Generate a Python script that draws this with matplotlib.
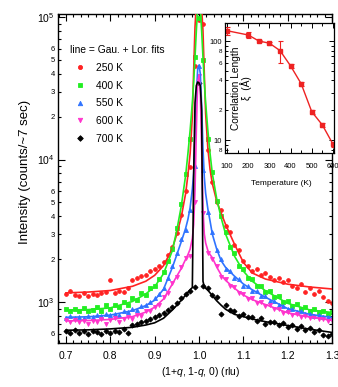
import numpy as np
import matplotlib
matplotlib.use('Agg')
import matplotlib.pyplot as plt
from matplotlib.ticker import LogLocator, FuncFormatter, MultipleLocator

plt.rcParams['font.family'] = ['Liberation Sans', 'DejaVu Sans']
plt.rcParams['mathtext.fontset'] = 'custom'
plt.rcParams['mathtext.rm'] = 'Liberation Sans'
plt.rcParams['mathtext.it'] = 'Liberation Sans:italic'

# ---------------- data ----------------
labels = ['250 K', '400 K', '550 K', '600 K', '700 K']
colors = ['#ff2222', '#22ee22', '#2f73ff', '#ff33cc', '#000000']
markers = ['o', 's', '^', 'v', 'D']

q_data = np.linspace(0.70, 1.30, 61)

I_250 = [1130, 1190, 1120, 1100, 1150, 1110, 1140, 1120, 1160, 1180,
         1420, 1150, 1200, 1170, 1250, 1420, 1480, 1520, 1560, 1650,
         1700, 1780, 1900, 2150, 2450, 3050, 4100, 6000, 8850, 45000,
         95000,
         90000, 11600, 7000, 5000, 4400, 3400, 3100, 2500, 2300, 1950,
         1800, 1650, 1700, 1560, 1600, 1500, 1430, 1480, 1380, 1420,
         1300, 1250, 1330, 1180, 1250, 1130, 1200, 1080, 1020, 990]
I_400 = [890, 860, 900, 870, 905, 860, 880, 920, 870, 950,
         900, 960, 930, 1000, 960, 1060, 1030, 1150, 1120, 1260,
         1300, 1450, 1620, 1950, 2350, 3300, 4900, 7900, 14000, 52000,
         98000,
         50000, 14000, 8200, 5100, 4000, 3100, 2450, 2200, 1800, 1700,
         1480, 1450, 1300, 1290, 1180, 1190, 1090, 1100, 1000, 1020,
         940, 970, 900, 930, 870, 890, 850, 870, 830, 850]
I_550 = [770, 800, 775, 790, 770, 800, 785, 810, 795, 820,
         805, 830, 815, 860, 850, 890, 880, 940, 960, 1000,
         1060, 1140, 1260, 1480, 1780, 2200, 2750, 3200, 4400, 9000,
         45000,
         8500, 4300, 3100, 2300, 2000, 1700, 1650, 1480, 1450, 1300,
         1300, 1190, 1200, 1100, 1100, 1020, 1010, 950, 940, 890,
         890, 850, 860, 820, 830, 800, 810, 780, 790, 770]
I_600 = [745, 720, 750, 725, 735, 700, 740, 725, 760, 700,
         745, 770, 720, 760, 790, 760, 810, 800, 860, 870,
         930, 960, 1080, 1150, 1360, 1500, 1760, 2030, 2100, 5000,
         38700,
         4200, 2200, 2000, 1800, 1500, 1450, 1300, 1270, 1150, 1130,
         1050, 1060, 980, 1000, 940, 950, 890, 900, 840, 850,
         810, 830, 790, 800, 770, 780, 755, 765, 740, 750]
I_700 = [630, 610, 640, 605, 625, 600, 630, 615, 600, 625,
         610, 630, 620, 650, 610, 690, 700, 720, 740, 760,
         780, 810, 840, 880, 920, 990, 1060, 1130, 1200, 1270,
         34500,
         1300, 1250, 1120, 1080, 830, 950, 880, 860, 800, 830,
         780, 790, 740, 770, 700, 730, 720, 690, 710, 670,
         690, 650, 680, 640, 660, 620, 640, 590, 575, 600]

# Gaussian + Lorentzian fit curves
q_fit = [0.70, 0.75, 0.80, 0.85, 0.88, 0.90, 0.92, 0.94, 0.95, 0.96,
         0.97, 0.975, 0.98, 0.985, 0.988, 0.991, 0.994, 0.997, 1.0, 1.003,
         1.006, 1.009, 1.012, 1.015, 1.02, 1.025, 1.03, 1.04, 1.05, 1.06,
         1.08, 1.10, 1.12, 1.15, 1.20, 1.25, 1.30]
fit_250 = [1160, 1175, 1205, 1290, 1400, 1540, 1800, 2380, 3000, 3950,
           5800, 7800, 11000, 20000, 42000, 85000, 125000, 140000, 140000, 135000,
           115000, 80000, 40000, 21000, 12000, 8500, 6800, 5100, 4200, 3500,
           2550, 1900, 1600, 1450, 1335, 1275, 1235]
fit_400 = [878, 885, 910, 1010, 1140, 1280, 1580, 2300, 3200, 4700,
           7800, 11000, 16000, 25000, 35000, 52000, 80000, 115000, 135000, 115000,
           80000, 52000, 35000, 25000, 16000, 11000, 8000, 5300, 3900, 3000,
           2100, 1650, 1400, 1200, 980, 880, 845]
fit_550 = [782, 788, 810, 870, 945, 1030, 1230, 1750, 2150, 2650,
           3300, 3800, 4600, 6200, 8000, 14000, 28000, 43000, 46000, 40000,
           24000, 12000, 7500, 5800, 4500, 3700, 3000, 2350, 1950, 1750,
           1520, 1340, 1220, 1080, 900, 820, 780]
fit_600 = [738, 742, 755, 790, 850, 920, 1050, 1340, 1520, 1720,
           2000, 2150, 2350, 2800, 3500, 6000, 16000, 35000, 39000, 30000,
           12000, 4500, 3000, 2600, 2300, 2150, 2050, 1760, 1550, 1420,
           1250, 1120, 1040, 960, 840, 785, 745]
fit_700 = [634, 638, 648, 665, 690, 715, 770, 880, 950, 1030,
           1120, 1170, 1220, 1265, 8000, 25000, 33000, 35000, 34500, 33000,
           22000, 1400, 1275, 1250, 1210, 1160, 1110, 1020, 950, 890,
           820, 790, 760, 728, 685, 645, 612]

# inset: correlation length vs temperature
T_inset = [100, 200, 250, 300, 350, 400, 450, 500, 550, 600]
xi_inset = [127, 115, 100, 95, 80, 56, 37, 19.3, 14.2, 9.1]
xi_err = [11, 8, 3, 3, 20, 2, 1.5, 1, 0.8, 0.5]

# ---------------- figure ----------------
fig = plt.figure(figsize=(3.38, 3.87), dpi=100)
ax = fig.add_axes([58/338, 1-343/387, 274/338, 329/387])

series = [I_250, I_400, I_550, I_600, I_700]
fits = [fit_250, fit_400, fit_550, fit_600, fit_700]
msizes = [2.7, 2.5, 2.9, 2.9, 2.6]
for vals, c, m, lab, ms in zip(series, colors, markers, labels, msizes):
    ax.plot(q_data, vals, ls='none', marker=m, ms=ms, color=c, mec=c, mew=0.6,
            label=lab, zorder=2)
for f, c in zip(fits, colors):
    ax.plot(q_fit, f, color=c, lw=1.2, zorder=3)

ax.set_yscale('log')
ax.set_ylim(516, 1.05e5)
ax.set_xlim(0.682, 1.300)

ax.xaxis.set_major_locator(MultipleLocator(0.1))
ax.xaxis.set_minor_locator(MultipleLocator(0.1/6))
ax.xaxis.set_major_formatter(FuncFormatter(lambda v, p: f'{v:.1f}'))

ax.yaxis.set_major_locator(LogLocator(base=10, numticks=10))
ax.yaxis.set_minor_locator(LogLocator(base=10, subs=np.arange(2, 10), numticks=30))


def minor_fmt(v, pos):
    d = int(round(v / 10**np.floor(np.log10(v) + 1e-9)))
    return str(d) if d in (2, 3, 4, 5, 6) else ''


ax.yaxis.set_minor_formatter(FuncFormatter(minor_fmt))

ax.tick_params(which='both', direction='in', top=True, right=True, width=0.8)
ax.tick_params(which='major', length=5, labelsize=7.5)
ax.tick_params(axis='x', which='major', pad=6)
ax.tick_params(axis='y', which='major', pad=2.5)
ax.tick_params(which='minor', length=2.5)
ax.tick_params(axis='y', which='minor', labelsize=5.5, pad=2)
for s in ax.spines.values():
    s.set_linewidth(1.0)

ax.set_xlabel('(1+$q$, 1-$q$, 0) (rlu)', fontsize=7.5)
ax.xaxis.set_label_coords(0.522, -0.068)
ax.set_ylabel('Intensity (counts/~7 sec)', fontsize=9.5)
ax.yaxis.set_label_coords(-0.099, 0.52)

leg = ax.legend(loc='upper left', bbox_to_anchor=(0.0438, 0.905), frameon=False,
                fontsize=7.4, title='line = Gau. + Lor. fits', title_fontsize=7.4,
                alignment='left', handlelength=2.0, handletextpad=0.5,
                labelspacing=0.75, borderpad=0, borderaxespad=0, numpoints=1,
                markerscale=1.1)

# ---------------- inset ----------------
axin = fig.add_axes([225/338, 1-153/387, 109/338, 130/387])
axin.errorbar(T_inset, xi_inset, yerr=xi_err, color='#ee2222', marker='s', ms=3.0,
              lw=1.0, elinewidth=0.8, capsize=1.8, capthick=0.8)
axin.set_yscale('log')
axin.set_ylim(7.4, 152)
axin.set_xlim(90, 605)
axin.xaxis.set_major_locator(MultipleLocator(100))
axin.xaxis.set_minor_locator(MultipleLocator(50))
axin.yaxis.set_major_locator(LogLocator(base=10, numticks=10))
axin.yaxis.set_minor_locator(LogLocator(base=10, subs=np.arange(2, 10), numticks=30))
axin.yaxis.set_major_formatter(FuncFormatter(lambda v, p: f'{int(round(v))}'))


def inset_minor_fmt(v, pos):
    d = int(round(v / 10**np.floor(np.log10(v) + 1e-9)))
    return str(d) if d in (2, 4, 6, 8) else ''


axin.yaxis.set_minor_formatter(FuncFormatter(inset_minor_fmt))
axin.tick_params(which='both', direction='in', top=True, right=True, width=0.7)
axin.tick_params(which='major', length=3.5, labelsize=5.5)
axin.tick_params(axis='x', which='major', pad=7)
axin.tick_params(axis='y', which='major', pad=2)
axin.tick_params(which='minor', length=2)
axin.tick_params(axis='y', which='minor', labelsize=4.5, pad=2)
for s in axin.spines.values():
    s.set_linewidth(0.9)
axin.set_xlabel('Temperature (K)', fontsize=6)
axin.xaxis.set_label_coords(0.52, -0.21)
axin.text(0.10, 0.50, 'Correlation Length', rotation=90, transform=axin.transAxes,
          ha='center', va='center', fontsize=7.3)
axin.text(0.19, 0.50, 'ξ  (Å)', rotation=90, transform=axin.transAxes,
          ha='center', va='center', fontsize=7.3)

fig.savefig('out.png', dpi=100)
